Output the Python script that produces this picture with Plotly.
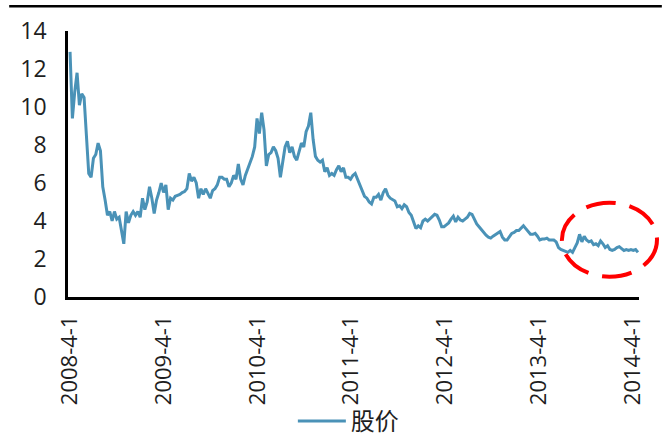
import pandas as pd
import plotly.graph_objs as go

# series name, tick dates and labels
series_name = "股价"
tick_dates = ["2008-04-01", "2009-04-01", "2010-04-01", "2011-04-01",
              "2012-04-01", "2013-04-01", "2014-04-01"]
tick_labels = ["2008-4-1", "2009-4-1", "2010-4-1", "2011-4-1",
               "2012-4-1", "2013-4-1", "2014-4-1"]
first_day = "2008-04-01"
last_day = "2014-04-22"

# price, evenly spaced in time
price = [
    12.9, 9.4, 10.8, 11.8, 10.1, 10.7, 10.5, 8.3, 6.5, 6.3,
    7.3, 7.5, 8.1, 7.7, 5.8, 5.1, 4.3, 4.5, 4.0, 4.5,
    4.1, 4.2, 3.4, 2.8, 4.5, 3.9, 4.3, 4.5, 4.3, 4.5,
    4.2, 5.2, 4.6, 5.0, 5.8, 5.2, 4.4, 5.1, 5.5, 6.0,
    5.5, 5.9, 4.6, 5.2, 5.1, 5.3, 5.35, 5.4, 5.5, 5.55,
    5.7, 6.5, 6.1, 6.3, 6.0, 5.2, 5.7, 5.4, 5.7, 5.4,
    5.2, 5.6, 5.7, 5.9, 6.3, 6.3, 6.2, 6.2, 5.8, 6.0,
    6.4, 6.2, 7.0, 6.2, 5.9, 6.4, 6.7, 7.0, 7.4, 7.9,
    9.4, 8.6, 9.7, 8.8, 6.9, 7.5, 7.6, 7.9, 7.7, 7.3,
    6.3, 7.1, 7.9, 8.2, 7.6, 7.9, 7.4, 7.2, 7.6, 8.1,
    7.9, 8.7, 9.0, 9.7, 8.3, 7.4, 7.2, 7.1, 7.2, 6.6,
    6.8, 6.4, 6.5, 6.4, 6.7, 6.9, 6.6, 6.8, 6.3, 6.3,
    6.2, 6.4, 6.5, 6.2, 6.0, 5.7, 5.3, 5.2, 5.0, 4.9,
    5.25, 5.25, 5.4, 5.1, 5.5, 5.7, 5.35, 5.2, 5.1, 5.05,
    4.75, 4.8, 4.65, 4.85, 4.75, 4.45, 4.3, 4.0, 3.6, 3.75,
    3.65, 4.0, 4.1, 4.0, 4.1, 4.2, 4.35, 4.3, 4.05, 3.7,
    3.7, 3.8, 3.9, 4.1, 4.25, 3.95, 4.2, 4.05, 4.0, 4.1,
    4.2, 4.4, 4.35, 4.1, 3.85, 3.7, 3.55, 3.35, 3.25, 3.15,
    3.1, 3.2, 3.3, 3.4, 3.45, 3.15, 3.0, 3.0, 3.2, 3.35,
    3.4, 3.5, 3.5, 3.65, 3.75, 3.6, 3.45, 3.3, 3.3, 3.35,
    3.2, 3.0, 3.05, 3.05, 3.1, 3.0, 3.0, 3.0, 2.9, 2.6,
    2.5, 2.45, 2.4, 2.35, 2.45, 2.35, 2.6, 2.85, 3.3, 2.9,
    3.2, 3.0, 2.9, 2.95, 2.75, 2.8, 2.7, 2.95, 2.8, 2.6,
    2.7, 2.5, 2.45, 2.5, 2.6, 2.65, 2.55, 2.45, 2.5, 2.45,
    2.5, 2.45, 2.5, 2.35,
]

dates = pd.date_range(first_day, last_day, periods=len(price))

FONT = "Open Sans, Noto Sans CJK SC, sans-serif"

fig = go.Figure()
fig.add_trace(go.Scatter(x=dates, y=price, mode="lines", name=series_name,
                         line=dict(color="#4A92B7", width=3)))

# red dashed ring around the latest stretch
fig.add_shape(type="circle", xref="paper", yref="paper",
              x0=0.865, x1=1.0315, y0=0.076, y1=0.3545,
              line=dict(color="#FF0000", width=4, dash="30px,14px"))
# black rule across the top
fig.add_shape(type="line", xref="paper", yref="paper",
              x0=-0.103, x1=1.04, y0=1.093, y1=1.093,
              line=dict(color="black", width=2.5))

fig.update_layout(
    width=662, height=439,
    margin=dict(l=68, r=23, t=31, b=142, autoexpand=False),
    paper_bgcolor="white", plot_bgcolor="white",
    font=dict(family=FONT, size=22, color="#1E1E1E"),
    showlegend=True,
    legend=dict(orientation="h", x=0.491, xanchor="center", y=-0.468, yanchor="middle",
                itemwidth=48, font=dict(size=24, color="#1E1E1E"),
                bgcolor="rgba(0,0,0,0)"),
    xaxis=dict(range=["2008-03-24", "2014-04-26"], tickvals=tick_dates, ticktext=tick_labels,
               tickangle=-90, showgrid=False, zeroline=False, ticks="", automargin=False,
               showline=True, linecolor="black", linewidth=2.5, ticklabelstandoff=7),
    yaxis=dict(range=[0, 14], dtick=2, showgrid=False, zeroline=False, ticks="", automargin=False,
               showline=True, linecolor="black", linewidth=2.5, ticklabelstandoff=14,
               tickfont=dict(size=23)),
)

# the page's default body margin would push the chart 8px off
fig.write_html("out.html", config={"displayModeBar": False},
               post_script="document.body.style.margin = '0';")
